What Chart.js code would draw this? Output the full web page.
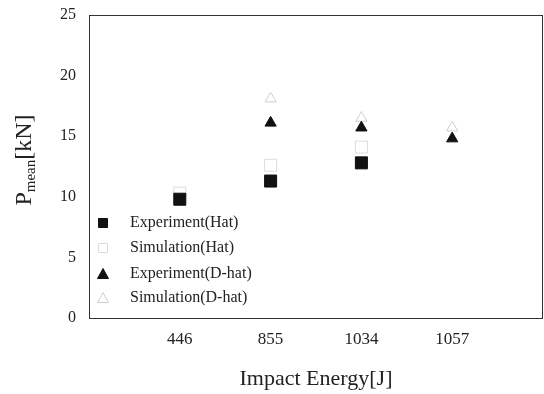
<!DOCTYPE html>
<html>
<head>
<meta charset="utf-8">
<script src="https://cdn.jsdelivr.net/npm/chart.js@4"></script>
<style>
  html, body { margin: 0; padding: 0; background: #fff; }
  #wrap { width: 544px; height: 394px; }
</style>
</head>
<body>
<div id="wrap"><canvas id="grafico"></canvas></div>
<script>
// impact energies (categories) and P_mean values in kN
const energias = ["446", "855", "1034", "1057"];
const experimentoHat = [9.8, 11.3, 12.8, null];
const simulacaoHat = [10.3, 12.6, 14.1, null];
const experimentoDhat = [null, 16.1, 15.7, 14.8];
const simulacaoDhat = [null, 18.1, 16.5, 15.7];
const ticksY = [0, 5, 10, 15, 20, 25];

const serif = "'Liberation Serif', 'DejaVu Serif', serif";

function pontos(valores) {
  return valores
    .map((v, i) => (v === null ? null : { x: i + 1, y: v }))
    .filter((p) => p !== null);
}

// frame, y title with subscript and the legend inside the plot
const extras = {
  id: "extras",
  beforeDatasetsDraw(chart) {
    const ctx = chart.ctx;
    const area = chart.chartArea;
    ctx.save();
    ctx.strokeStyle = "#333";
    ctx.lineWidth = 1;
    ctx.strokeRect(area.left + 0.5, area.top + 0.5, area.right - area.left - 1, area.bottom - area.top);
    ctx.restore();
  },
  afterDraw(chart) {
    const ctx = chart.ctx;
    const area = chart.chartArea;

    ctx.save();
    ctx.translate(25, 160);
    ctx.rotate(-Math.PI / 2);
    ctx.fillStyle = "#222";
    ctx.textBaseline = "middle";
    const partes = [
      { t: "P", f: "24px " + serif, dy: 0 },
      { t: "mean", f: "15px " + serif, dy: 6 },
      { t: "[kN]", f: "24px " + serif, dy: 0 },
    ];
    let largura = 0;
    partes.forEach((p) => {
      ctx.font = p.f;
      largura += ctx.measureText(p.t).width;
    });
    let x = -largura / 2;
    partes.forEach((p) => {
      ctx.font = p.f;
      ctx.fillText(p.t, x, p.dy);
      x += ctx.measureText(p.t).width;
    });
    ctx.restore();

    ctx.save();
    ctx.font = "16px " + serif;
    ctx.textBaseline = "middle";
    const linhas = [223, 248, 274, 298];
    chart.data.datasets.forEach((ds, i) => {
      const y = linhas[i];
      const mx = area.left + 14;
      ctx.fillStyle = ds.backgroundColor;
      ctx.strokeStyle = ds.borderColor;
      ctx.lineWidth = 1;
      ctx.beginPath();
      if (ds.pointStyle === "rect") {
        ctx.rect(mx - 4.5, y - 4.5, 9, 9);
      } else {
        ctx.moveTo(mx, y - 5.5);
        ctx.lineTo(mx + 5.5, y + 4.5);
        ctx.lineTo(mx - 5.5, y + 4.5);
        ctx.closePath();
      }
      ctx.fill();
      ctx.stroke();
      ctx.fillStyle = "#222";
      ctx.fillText(ds.label, area.left + 41, y);
    });
    ctx.restore();
  },
};

new Chart(document.getElementById("grafico"), {
  type: "scatter",
  data: {
    datasets: [
      {
        label: "Experiment(Hat)",
        data: pontos(experimentoHat),
        pointStyle: "rect",
        pointRadius: 8.5,
        backgroundColor: "#111",
        borderColor: "#111",
      },
      {
        label: "Simulation(Hat)",
        data: pontos(simulacaoHat),
        pointStyle: "rect",
        pointRadius: 8.5,
        backgroundColor: "rgba(0,0,0,0)",
        borderColor: "#dcdcdc",
      },
      {
        label: "Experiment(D-hat)",
        data: pontos(experimentoDhat),
        pointStyle: "triangle",
        pointRadius: 6.5,
        backgroundColor: "#111",
        borderColor: "#111",
      },
      {
        label: "Simulation(D-hat)",
        data: pontos(simulacaoDhat),
        pointStyle: "triangle",
        pointRadius: 6.5,
        backgroundColor: "rgba(0,0,0,0)",
        borderColor: "#cfcfcf",
      },
    ],
  },
  options: {
    responsive: true,
    maintainAspectRatio: false,
    animation: false,
    layout: { autoPadding: false, padding: { top: 15, right: 1, bottom: 0 } },
    plugins: {
      legend: { display: false },
      tooltip: { enabled: false },
    },
    scales: {
      x: {
        type: "linear",
        min: 0,
        max: 5,
        afterBuildTicks: (scale) => {
          scale.ticks = energias.map((e, i) => ({ value: i + 1 }));
        },
        afterFit: (scale) => {
          scale.height = 76;
          scale.paddingLeft = 0;
          scale.paddingRight = 0;
        },
        grid: { display: false, drawTicks: false },
        border: { display: false },
        ticks: {
          padding: 11,
          color: "#222",
          font: { family: serif, size: 17 },
          callback: (v) => energias[v - 1],
        },
        title: {
          display: true,
          text: "Impact Energy[J]",
          color: "#222",
          font: { family: serif, size: 22 },
          padding: { top: 14, bottom: 2 },
        },
      },
      y: {
        min: 0,
        max: 25,
        afterBuildTicks: (scale) => {
          scale.ticks = ticksY.map((v) => ({ value: v }));
        },
        afterFit: (scale) => {
          scale.width = 89;
          scale.paddingTop = 0;
          scale.paddingBottom = 0;
        },
        grid: { display: false, drawTicks: false },
        border: { display: false },
        ticks: {
          padding: 13,
          color: "#222",
          font: { family: serif, size: 16 },
        },
      },
    },
  },
  plugins: [extras],
});
</script>
</body>
</html>
